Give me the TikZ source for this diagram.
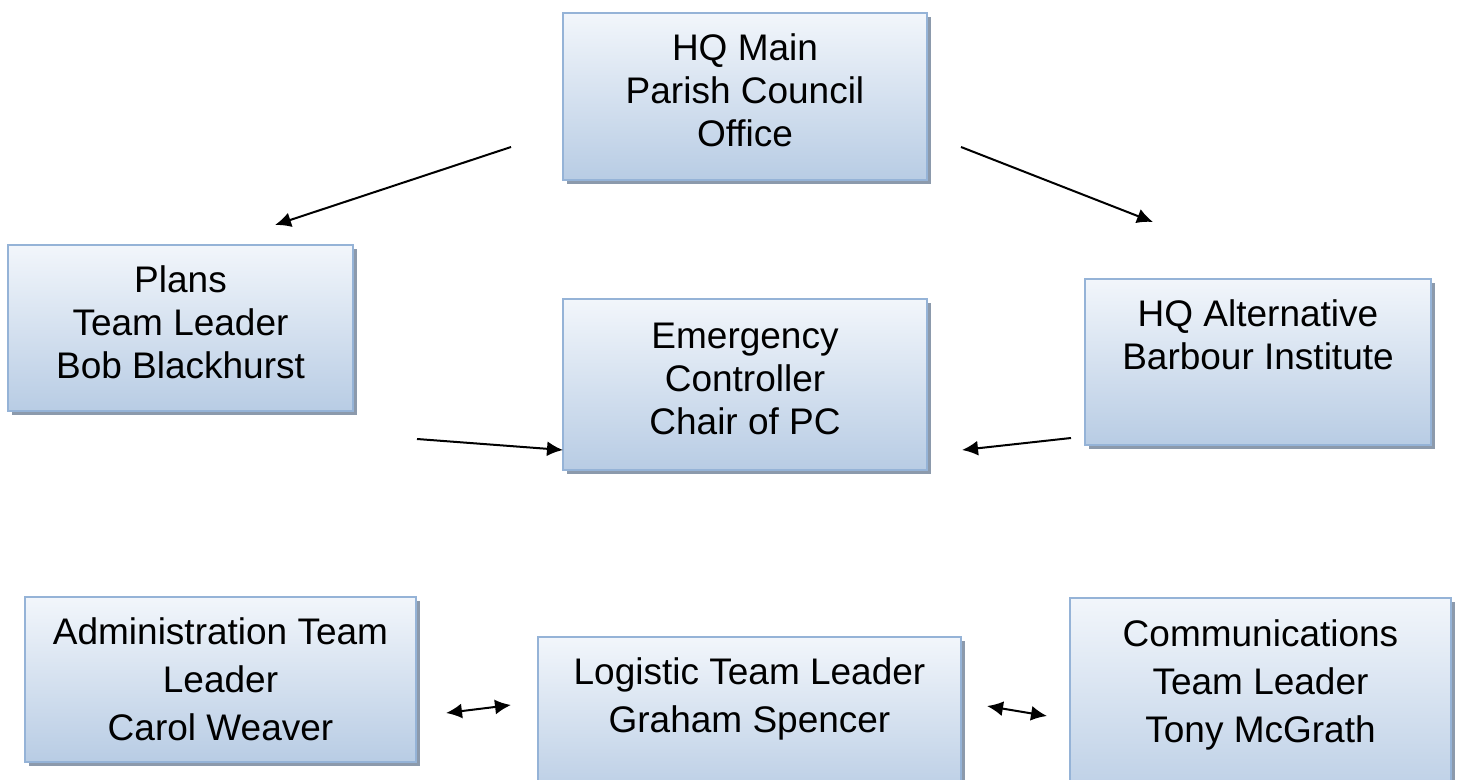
\documentclass[tikz,border=0pt]{standalone}
\usepackage{fontspec}
\setmainfont{Liberation Sans}
\usetikzlibrary{arrows.meta,shadows}
\definecolor{boxtop}{RGB}{242,246,251}
\definecolor{boxbot}{RGB}{184,204,228}
\definecolor{boxline}{RGB}{149,179,215}
\definecolor{boxshade}{RGB}{140,154,172}
\tikzset{
  panel/.style={rectangle,draw=boxline,line width=1pt,top color=boxtop,bottom color=boxbot,
    align=center,inner sep=0pt,
    drop shadow={shadow xshift=2pt,shadow yshift=-2pt,fill=boxshade,opacity=1}},
  unit/.style={panel,font=\fontsize{18.5}{21.5}\selectfont,text depth=6pt},
  lowunit/.style={panel,font=\fontsize{18.5}{24}\selectfont},
  link/.style={line width=1pt,-{Latex[length=8pt,width=7.5pt]}},
  twolink/.style={line width=1pt,{Latex[length=8pt,width=7.5pt]}-{Latex[length=8pt,width=7.5pt]}}
}
\begin{document}
\begin{tikzpicture}[x=0.5pt,y=-0.5pt]
  \useasboundingbox (0,0) rectangle (1460,780);
  % top and middle row
  \node[unit,minimum width=182pt,minimum height=83.5pt] (hqmain) at (745,96.5) {HQ Main\\Parish Council\\Office};
  \node[unit,minimum width=172.5pt,minimum height=83pt] (plans) at (180.5,328) {Plans\\Team Leader\\Bob Blackhurst};
  \node[unit,minimum width=182pt,minimum height=85.5pt] (emerg) at (745,384.5) {Emergency\\Controller\\Chair of PC};
  \node[unit,minimum width=173pt,minimum height=83pt] (hqalt) at (1258,362) {HQ Alternative\\Barbour Institute\\~};
  % bottom row
  \node[lowunit,minimum width=195.5pt,minimum height=82.5pt] (admin) at (220.5,679.5) {Administration Team\\Leader\\Carol Weaver};
  \node[lowunit,minimum width=211.5pt,minimum height=82.5pt] (logis) at (749.5,719.5) {Logistic Team Leader\\Graham Spencer\\~};
  \node[lowunit,minimum width=190.5pt,minimum height=107pt] (comms) at (1260.5,705) {Communications\\Team Leader\\Tony McGrath\\~};
  % free ends of the arrows
  \coordinate (a1) at (511,147);  \coordinate (b1) at (275,225);
  \coordinate (a2) at (961,147);  \coordinate (b2) at (1153,222);
  \coordinate (a3) at (417,439);  \coordinate (b3) at (563,450);
  \coordinate (a4) at (1071,438); \coordinate (b4) at (962,450);
  \coordinate (a5) at (446,713);  \coordinate (b5) at (511,705);
  \coordinate (a6) at (987,706);  \coordinate (b6) at (1047,716);
  \draw[link] (a1) -- (b1);
  \draw[link] (a2) -- (b2);
  \draw[link] (a3) -- (b3);
  \draw[link] (a4) -- (b4);
  \draw[twolink] (a5) -- (b5);
  \draw[twolink] (a6) -- (b6);
\end{tikzpicture}
\end{document}
